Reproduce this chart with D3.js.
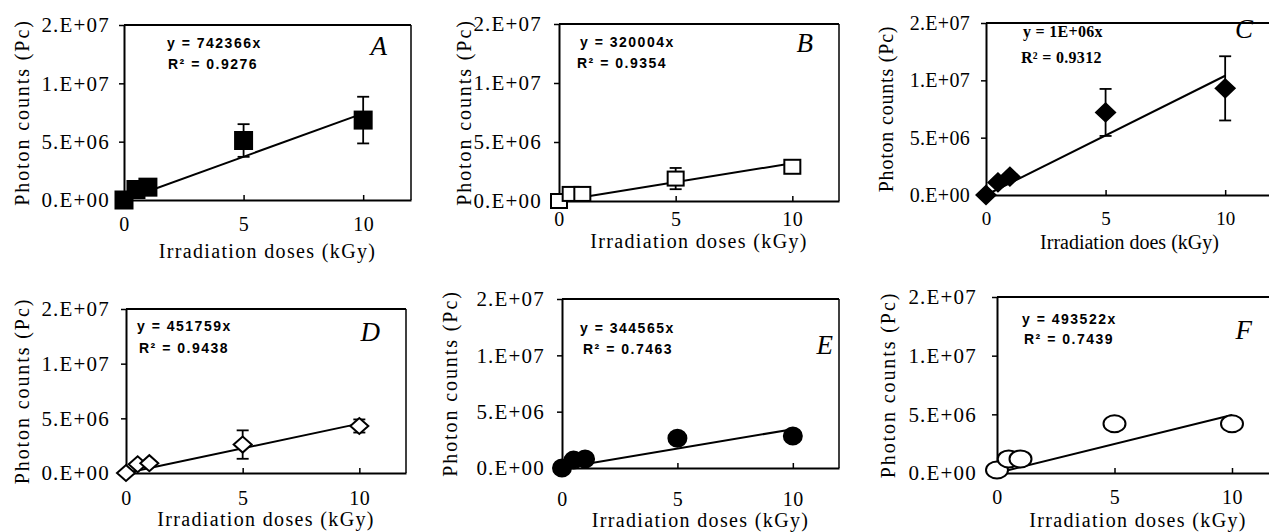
<!DOCTYPE html>
<meta charset="utf-8">
<head>
    <style>
        body { margin: 0; background: #fff; }
        text { font-family: "Liberation Serif", "Times New Roman", serif; fill: #000; }
        .axis path, .axis line { stroke: #000; }
        .axis path { stroke-width: 2px; }
        .axis line { stroke-width: 1.5px; }
        .eq { font-family: "Liberation Sans", Arial, sans-serif; font-weight: bold; font-size: 14px; letter-spacing: 1.5px; }
        .letter { font-style: italic; font-size: 27px; }
    </style>
</head>
<body>
<svg width="1269" height="532"></svg>
<script src="https://d3js.org/d3.v7.min.js"></script>
<script>

    // irradiation doses (kGy), same for every panel
    var doses = [0, 0.5, 1, 5, 10];

    // photon counts per panel
    var countsA = [0, 0.9e6, 1.1e6, 5.1e6, 6.85e6];
    var errA    = [0, 0, 0, 1.4e6, 2.0e6];
    var countsB = [0, 0.6e6, 0.6e6, 1.9e6, 2.9e6];
    var errB    = [0, 0, 0, 0.9e6, 0];
    var countsC = [0, 1.1e6, 1.6e6, 7.2e6, 9.3e6];
    var errC    = [0, 0, 0, 2.05e6, 2.8e6];
    var countsD = [0, 0.8e6, 0.9e6, 2.6e6, 4.3e6];
    var errD    = [0, 0, 0, 1.3e6, 0.6e6];
    var countsE = [0, 0.7e6, 0.8e6, 2.65e6, 2.85e6];
    var errE    = [0, 0, 0, 0, 0];
    var countsF = [0.25e6, 1.2e6, 1.2e6, 4.2e6, 4.2e6];
    var errF    = [0, 0, 0, 0, 0];

    // trend lines through the origin
    var slopes = [742366, 320004, 1.04e6, 451759, 344565, 493522];
    var equations = ["y = 742366x", "y = 320004x", "y = 1E+06x", "y = 451759x", "y = 344565x", "y = 493522x"];
    var rSquared = ["R\u00b2 = 0.9276", "R\u00b2 = 0.9354", "R\u00b2 = 0.9312", "R\u00b2 = 0.9438", "R\u00b2 = 0.7463", "R\u00b2 = 0.7439"];
    var letters = ["A", "B", "C", "D", "E", "F"];
    var xTitles = ["Irradiation doses (kGy)", "Irradiation doses (kGy)", "Irradiation does (kGy)",
                   "Irradiation doses (kGy)", "Irradiation doses (kGy)", "Irradiation doses (kGy)"];
    var yTitle = "Photon counts (Pc)";

    var xTickValues = [0, 5, 10];
    var yTickValues = [0, 5e6, 1e7, 1.5e7];
    var yTickLabels = ["0.E+00", "5.E+06", "1.E+07", "2.E+07"];

    var series = [
        { counts: countsA, err: errA, marker: "square", filled: true },
        { counts: countsB, err: errB, marker: "square", filled: false },
        { counts: countsC, err: errC, marker: "diamond", filled: true },
        { counts: countsD, err: errD, marker: "diamond", filled: false },
        { counts: countsE, err: errE, marker: "circle", filled: true },
        { counts: countsF, err: errF, marker: "ellipse", filled: false }
    ];

    // panel geometry (pixels)
    var layout = [
        { x0: 124, y0: 25, x1: 411, y1: 200, yPad: 14, yLabX: 22, tickY: 231, xLabY: 258, eq: [167, 48], r2: [168, 69], let: [387, 55], sp: 1.35, tf: 21 },
        { x0: 559, y0: 24, x1: 839, y1: 201, yPad: 17, yLabX: 464, tickY: 226, xLabY: 248, eq: [580, 47], r2: [577, 68], let: [813, 52], sp: 1.35, tf: 21 },
        { x0: 986, y0: 23, x1: 1273, y1: 195, yPad: 16, yLabX: 886, tickY: 225, xLabY: 249, eq: [1023, 37], r2: [1021, 63], let: [1253, 38], sp: 0, tf: 20 },
        { x0: 126, y0: 309, x1: 406, y1: 473, yPad: 16, yLabX: 22, tickY: 505, xLabY: 526, eq: [137, 331], r2: [139, 353], let: [380, 341], sp: 1.35, tf: 21 },
        { x0: 562, y0: 299, x1: 839, y1: 468, yPad: 17, yLabX: 450, tickY: 506, xLabY: 527, eq: [580, 333], r2: [583, 354], let: [833, 354], sp: 1.35, tf: 21 },
        { x0: 997, y0: 297, x1: 1279, y1: 473, yPad: 20, yLabX: 888, tickY: 504, xLabY: 527, eq: [1022, 324], r2: [1024, 344], let: [1252, 339], sp: 1.35, tf: 21 }
    ];

    var svg = d3.select("svg");

    layout.forEach(function (L, i) {
        var s = series[i];
        var g = svg.append("g");

        var x = d3.scaleLinear().domain([0, 12]).range([L.x0, L.x1]);
        var y = d3.scaleLinear().domain([0, 1.5e7]).range([L.y1, L.y0]);

        // frame top and right
        g.append("line").attr("x1", L.x0).attr("x2", L.x1).attr("y1", L.y0).attr("y2", L.y0)
            .attr("stroke", "#000").attr("stroke-width", 2);
        g.append("line").attr("x1", L.x1).attr("x2", L.x1).attr("y1", L.y0).attr("y2", L.y1)
            .attr("stroke", "#000").attr("stroke-width", 1.5);

        var yAxis = g.append("g")
            .attr("class", "axis")
            .attr("transform", "translate(" + L.x0 + ",0)")
            .call(d3.axisLeft(y)
                .tickValues(yTickValues)
                .tickSize(5)
                .tickSizeOuter(0)
                .tickPadding(L.yPad - 5)
                .tickFormat(function (d, k) { return yTickLabels[k]; }));
        yAxis.attr("font-size", L.tf).attr("font-family", "Liberation Serif");
        yAxis.selectAll("text")
            .style("font-size", L.tf + "px")
            .style("letter-spacing", L.sp ? "1.2px" : "0.3px");

        var xAxis = g.append("g")
            .attr("class", "axis")
            .attr("transform", "translate(0," + L.y1 + ")")
            .call(d3.axisBottom(x)
                .tickValues(xTickValues)
                .tickSize(-5)
                .tickSizeOuter(0)
                .tickFormat(d3.format("d")));
        xAxis.attr("font-size", L.tf - 1).attr("font-family", "Liberation Serif");
        xAxis.selectAll("text")
            .attr("y", L.tickY - L.y1)
            .attr("dy", 0)
            .style("font-size", (L.tf - 1) + "px")
            .style("letter-spacing", L.sp ? "0.5px" : "0px");

        // axis titles
        g.append("text")
            .attr("x", (L.x0 + L.x1) / 2)
            .attr("y", L.xLabY)
            .attr("text-anchor", "middle")
            .style("font-size", "20px")
            .style("letter-spacing", L.sp + "px")
            .text(xTitles[i]);

        g.append("text")
            .attr("transform", "translate(" + L.yLabX + "," + ((L.y0 + L.y1) / 2) + ") rotate(-90)")
            .attr("text-anchor", "middle")
            .attr("dy", "0.35em")
            .style("font-size", "20px")
            .style("letter-spacing", (L.sp ? 1.9 : 0.8) + "px")
            .text(yTitle);

        // trend line
        g.append("line")
            .attr("x1", x(0)).attr("y1", y(0))
            .attr("x2", x(10)).attr("y2", y(slopes[i] * 10))
            .attr("stroke", "#000").attr("stroke-width", 2);

        var pts = doses.map(function (d, k) { return { x: d, y: s.counts[k], e: s.err[k] }; });

        // error bars
        var eb = g.append("g").selectAll("g")
            .data(pts.filter(function (p) { return p.e > 0; }))
            .enter().append("g");
        eb.append("line")
            .attr("x1", function (p) { return x(p.x); }).attr("x2", function (p) { return x(p.x); })
            .attr("y1", function (p) { return y(p.y - p.e); }).attr("y2", function (p) { return y(p.y + p.e); })
            .attr("stroke", "#000").attr("stroke-width", 1.8);
        [-1, 1].forEach(function (sg) {
            eb.append("line")
                .attr("x1", function (p) { return x(p.x) - 6; }).attr("x2", function (p) { return x(p.x) + 6; })
                .attr("y1", function (p) { return y(p.y + sg * p.e); }).attr("y2", function (p) { return y(p.y + sg * p.e); })
                .attr("stroke", "#000").attr("stroke-width", 1.8);
        });

        // markers
        var fill = s.filled ? "#000" : "#fff";
        var mk = g.append("g").selectAll("path")
            .data(pts)
            .enter();
        if (s.marker === "square") {
            var h = s.filled ? 8.5 : 8;
            mk.append("rect")
                .attr("x", function (p) { return x(p.x) - h; })
                .attr("y", function (p) { return y(p.y) - (s.filled ? h : 7); })
                .attr("width", 2 * h).attr("height", s.filled ? 2 * h : 14)
                .attr("fill", fill).attr("stroke", "#000").attr("stroke-width", 2);
        } else if (s.marker === "diamond") {
            var hw = s.filled ? 9.5 : 9, hh = s.filled ? 9 : 8;
            mk.append("path")
                .attr("d", function (p) {
                    var cx = x(p.x), cy = y(p.y);
                    return "M" + (cx - hw) + "," + cy + "L" + cx + "," + (cy - hh) +
                        "L" + (cx + hw) + "," + cy + "L" + cx + "," + (cy + hh) + "Z";
                })
                .attr("fill", fill).attr("stroke", "#000").attr("stroke-width", 2);
        } else {
            mk.append("ellipse")
                .attr("cx", function (p) { return x(p.x); })
                .attr("cy", function (p) { return y(p.y); })
                .attr("rx", s.marker === "ellipse" ? 11 : 9)
                .attr("ry", 8.5)
                .attr("fill", fill).attr("stroke", "#000").attr("stroke-width", 2);
        }

        // equation and panel letter
        var serifEq = i === 2;
        [[equations[i], L.eq], [rSquared[i], L.r2]].forEach(function (t) {
            g.append("text").attr("class", "eq")
                .attr("x", t[1][0]).attr("y", t[1][1])
                .style("font-family", serifEq ? "'Liberation Serif', serif" : null)
                .style("font-size", serifEq ? "16px" : null)
                .style("letter-spacing", serifEq ? "0.3px" : null)
                .text(t[0]);
        });
        g.append("text").attr("class", "letter")
            .attr("x", L.let[0]).attr("y", L.let[1])
            .attr("text-anchor", "end")
            .text(letters[i]);
    });

</script>
</body>
